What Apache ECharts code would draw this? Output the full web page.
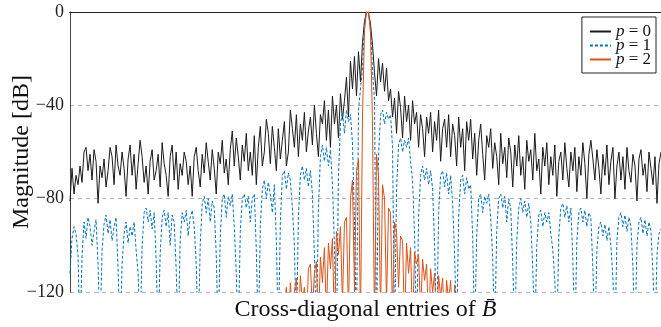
<!DOCTYPE html>
<html>
<head>
<meta charset="utf-8">
<script src="https://cdn.jsdelivr.net/npm/echarts@6/dist/echarts.min.js"></script>
<style>
html,body{margin:0;padding:0;background:#fff;}
#c{width:661px;height:327px;}
</style>
</head>
<body>
<div id="c"></div>
<script>
// Legend names
var seriesNames = ['p = 0', 'p = 1', 'p = 2'];
// y-axis ticks
var yTicks = [-120, -80, -40, 0];

// p = 0 (black, solid) magnitude in dB
var p0 = [
-81,-67,-78,-70,-74,-66,-73,-60,-58,-68,
-61,-72,-59,-64,-82,-66,-71,-63,-75,-68,
-58,-62,-74,-57,-66,-70,-60,-67,-79,-63,
-57,-70,-61,-76,-65,-55,-62,-73,-66,-78,
-64,-59,-72,-68,-61,-75,-56,-65,-70,-79,
-62,-57,-72,-60,-76,-65,-70,-60,-64,-74,
-66,-79,-62,-58,-68,-75,-61,-69,-56,-64,
-72,-59,-67,-78,-60,-65,-55,-69,-63,-74,
-59,-51,-66,-54,-62,-72,-57,-64,-52,-68,
-60,-70,-53,-74,-58,-49,-66,-60,-46,-52,
-65,-49,-58,-68,-50,-63,-55,-47,-66,-60,
-42,-50,-58,-44,-62,-48,-55,-43,-60,-51,
-45,-57,-40,-52,-62,-44,-48,-38,-55,-42,
-58,-36,-48,-40,-54,-35,-46,-38,-28,-45,
-21,-33,-19,-36,-17,-30,-13,-4,0,-0.5,
-5,-14,-26,-36,-20,-30,-22,-34,-24,-38,
-33,-45,-37,-52,-34,-41,-54,-36,-47,-40,
-55,-38,-48,-43,-58,-44,-50,-62,-45,-52,
-43,-60,-47,-55,-42,-64,-50,-46,-58,-44,
-62,-48,-53,-66,-45,-58,-50,-68,-47,-55,
-46,-63,-52,-70,-55,-48,-61,-72,-53,-58,
-50,-67,-56,-62,-74,-52,-65,-58,-71,-54,
-60,-75,-57,-66,-53,-70,-62,-76,-55,-64,
-59,-72,-52,-68,-63,-78,-58,-66,-56,-74,
-62,-70,-57,-79,-64,-60,-72,-56,-67,-75,
-60,-68,-58,-77,-62,-70,-56,-65,-80,-61,
-55,-63,-72,-59,-67,-78,-61,-70,-57,-74,
-64,-58,-80,-66,-60,-72,-62,-76,-58,-68,
-73,-61,-66,-81,-63,-59,-70,-65,-77,-60,
-67,-74,-62,-82,-65,-60
];

// p = 1 (blue, dashed)
var p1 = [
-112,-97,-92,-95,-104,-140,-105,-90,-97,-88,
-92,-100,-94,-89,-108,-140,-102,-91,-87,-95,
-89,-98,-92,-88,-110,-140,-108,-95,-90,-99,
-92,-96,-90,-102,-112,-140,-100,-86,-84,-90,
-85,-93,-86,-106,-140,-104,-88,-85,-92,-86,
-100,-87,-90,-110,-140,-98,-86,-90,-85,-96,
-88,-85,-92,-108,-140,-100,-82,-79,-86,-80,
-90,-81,-84,-104,-140,-96,-80,-78,-88,-79,
-83,-78,-92,-112,-140,-94,-80,-78,-84,-79,
-90,-80,-78,-102,-140,-92,-76,-72,-80,-73,
-78,-86,-74,-98,-140,-90,-70,-68,-76,-69,
-72,-84,-100,-140,-88,-70,-66,-72,-67,-75,
-68,-78,-104,-140,-84,-62,-57,-64,-58,-66,
-59,-74,-100,-140,-70,-48,-43,-52,-42,-47,
-44,-56,-90,-140,-42,-33,-24,-6,0,-0.5,
-7,-25,-38,-140,-62,-44,-42,-48,-43,-46,
-44,-58,-140,-76,-57,-54,-60,-55,-58,-54,
-64,-72,-96,-140,-88,-70,-66,-72,-67,-74,
-68,-76,-100,-140,-86,-70,-68,-75,-69,-78,
-70,-82,-104,-140,-88,-72,-70,-78,-71,-76,
-74,-96,-140,-96,-80,-78,-86,-79,-82,-78,
-88,-106,-140,-94,-80,-78,-84,-79,-90,-80,
-84,-108,-140,-98,-84,-80,-86,-81,-88,-82,
-90,-110,-140,-100,-87,-85,-92,-86,-90,-86,
-95,-102,-115,-140,-96,-84,-82,-88,-83,-90,
-84,-106,-140,-98,-86,-84,-90,-85,-92,-86,
-88,-110,-140,-102,-92,-90,-96,-91,-98,-92,
-100,-114,-140,-98,-88,-86,-92,-87,-94,-88,
-92,-110,-140,-100,-90,-88,-95,-89,-96,-90,
-94,-112,-140,-104,-95,-93
];

// p = 2 (orange, solid)
var p2 = [
-140,-140,-140,-140,-140,-140,-140,-140,-140,-140,
-140,-140,-140,-140,-140,-140,-140,-140,-140,-140,
-140,-140,-140,-140,-140,-140,-140,-140,-140,-140,
-140,-140,-140,-140,-140,-140,-140,-140,-140,-140,
-140,-140,-140,-140,-140,-140,-140,-140,-140,-140,
-140,-140,-140,-140,-140,-140,-140,-140,-140,-140,
-140,-140,-140,-140,-140,-140,-140,-140,-140,-140,
-140,-140,-140,-140,-140,-140,-140,-140,-140,-140,
-140,-140,-140,-140,-140,-140,-140,-140,-140,-140,
-140,-140,-140,-140,-140,-140,-140,-140,-140,-140,
-140,-140,-140,-140,-140,-140,-140,-125,-118,-135,
-116,-130,-120,-114,-135,-113,-124,-118,-135,-110,
-108,-128,-112,-107,-135,-105,-116,-101,-130,-99,
-110,-97,-135,-94,-104,-92,-125,-90,-88,-130,
-80,-72,-120,-68,-63,-135,-45,-8,0,0,
-9,-48,-135,-61,-70,-130,-74,-80,-125,-84,
-86,-130,-90,-94,-118,-96,-98,-135,-99,-112,
-101,-135,-103,-108,-104,-130,-106,-115,-108,-135,
-110,-120,-112,-135,-113,-122,-114,-135,-115,-124,
-115,-135,-117,-135,-140,-140,-140,-140,-140,-140,
-140,-140,-140,-140,-140,-140,-140,-140,-140,-140,
-140,-140,-140,-140,-140,-140,-140,-140,-140,-140,
-140,-140,-140,-140,-140,-140,-140,-140,-140,-140,
-140,-140,-140,-140,-140,-140,-140,-140,-140,-140,
-140,-140,-140,-140,-140,-140,-140,-140,-140,-140,
-140,-140,-140,-140,-140,-140,-140,-140,-140,-140,
-140,-140,-140,-140,-140,-140,-140,-140,-140,-140,
-140,-140,-140,-140,-140,-140,-140,-140,-140,-140,
-140,-140,-140,-140,-140,-140,-140,-140,-140,-140,
-140,-140,-140,-140,-140,-140
];

var categories = p0.map(function (_, i) { return i; });

var serif = '"Liberation Serif", "DejaVu Serif", serif';
var chart = echarts.init(document.getElementById('c'), null, {renderer: 'canvas'});
chart.setOption({
  animation: false,
  backgroundColor: '#fff',
  grid: {left: 70, right: 0, top: 12, bottom: 35, containLabel: false, outerBoundsMode: 'none'},
  legend: {
    data: seriesNames,
    orient: 'vertical',
    right: 5,
    top: 17,
    itemWidth: 21,
    itemHeight: 10,
    itemGap: -3,
    itemStyle: {opacity: 0},
    padding: [6, 5, 5, 7],
    backgroundColor: '#fff',
    borderColor: '#222',
    borderWidth: 1,
    borderRadius: 0,
    formatter: function (n) {
      var parts = n.split(' = ');
      return '{i|' + parts[0] + '}{t| = ' + parts[1] + '}';
    },
    textStyle: {
      fontFamily: serif, fontSize: 17, color: '#111', lineHeight: 13,
      rich: {
        i: {fontFamily: serif, fontSize: 17, fontStyle: 'italic', color: '#111', lineHeight: 13},
        t: {fontFamily: serif, fontSize: 17, color: '#111', lineHeight: 13}
      }
    }
  },
  xAxis: [{
    type: 'category',
    data: categories,
    boundaryGap: false,
    axisLine: {show: true, lineStyle: {color: '#111', width: 1.2}},
    axisTick: {show: false},
    axisLabel: {show: false},
    splitLine: {show: false},
    name: 'Cross-diagonal entries of {b|B\u0304}',
    nameLocation: 'middle',
    nameGap: 6,
    nameTextStyle: {
      fontFamily: serif, fontSize: 24, color: '#111',
      rich: {b: {fontFamily: serif, fontSize: 24, fontStyle: 'italic', color: '#111'}}
    }
  }, {
    type: 'category',
    data: categories,
    position: 'top',
    boundaryGap: false,
    axisLine: {show: true, lineStyle: {color: '#222', width: 1.2}},
    axisTick: {show: false},
    axisLabel: {show: false},
    splitLine: {show: false}
  }],
  yAxis: {
    type: 'value',
    min: -120,
    max: 0,
    interval: 40,
    axisLine: {show: true, lineStyle: {color: '#444', width: 1}},
    axisTick: {show: false},
    axisLabel: {
      margin: 6,
      fontFamily: serif, fontSize: 18, color: '#222',
      formatter: function (v) { return yTicks.indexOf(v) >= 0 ? String(v).replace('-', '\u2212') : ''; }
    },
    splitLine: {show: true, lineStyle: {color: '#b5b5b5', type: [4, 4], width: 1}},
    name: 'Magnitude [dB]',
    nameLocation: 'middle',
    nameGap: 36,
    nameMoveOverlap: false,
    nameTextStyle: {fontFamily: serif, fontSize: 24, color: '#111'}
  },
  series: [{
    name: seriesNames[0], type: 'line', data: p0, symbol: 'none', showSymbol: false,
    lineStyle: {color: '#1a1a1a', width: 1}, itemStyle: {color: '#1a1a1a'}, clip: true, z: 2
  }, {
    name: seriesNames[1], type: 'line', data: p1, symbol: 'none', showSymbol: false,
    lineStyle: {color: '#0072BD', width: 1, type: [3, 2]}, itemStyle: {color: '#0072BD'}, clip: true, z: 3
  }, {
    name: seriesNames[2], type: 'line', data: p2, symbol: 'none', showSymbol: false,
    lineStyle: {color: '#D95319', width: 1}, itemStyle: {color: '#D95319'}, clip: true, z: 4
  }]
});
</script>
</body>
</html>
